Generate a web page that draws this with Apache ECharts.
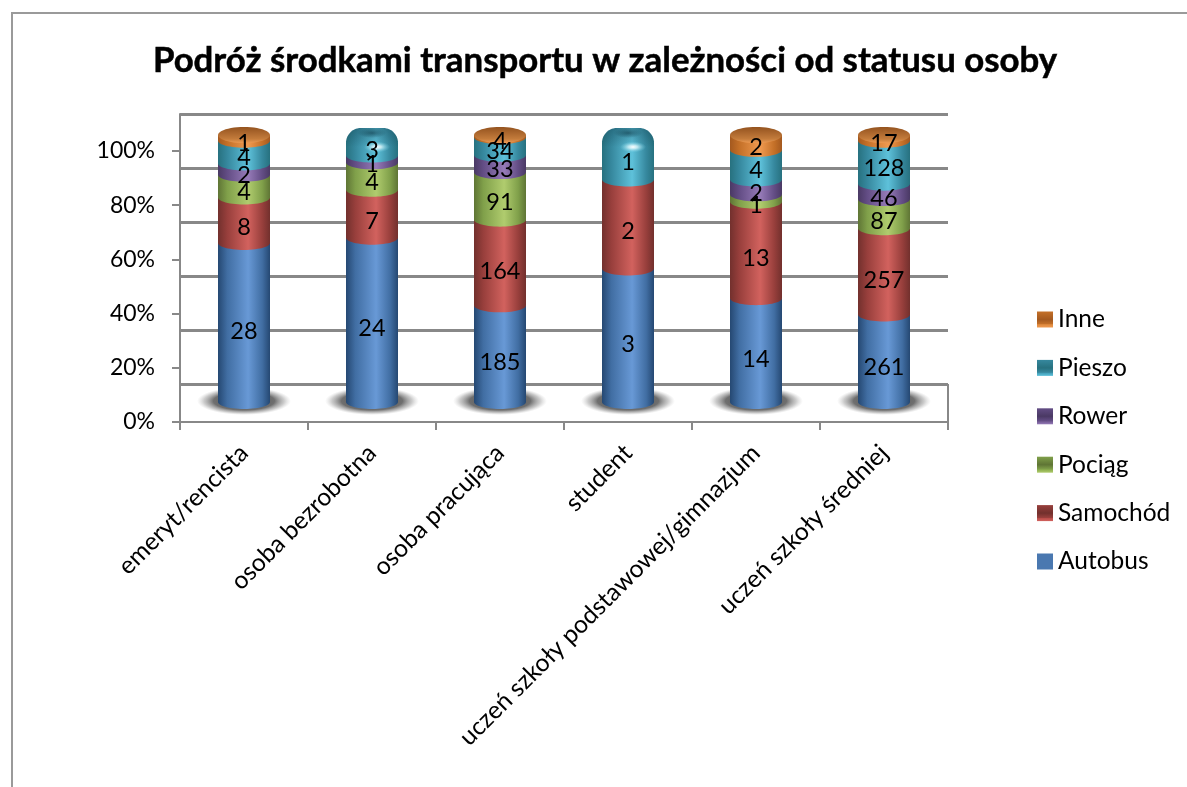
<!DOCTYPE html>
<html>
<head>
<meta charset="utf-8">
<style>html,body{margin:0;padding:0;background:#fff}#c{width:1187px;height:787px}</style>
<script src="https://cdn.jsdelivr.net/npm/echarts@6/dist/echarts.min.js"></script>
</head>
<body>
<div id="c"></div>
<script>
const categories = ['emeryt/rencista','osoba bezrobotna','osoba pracująca','student','uczeń szkoły podstawowej/gimnazjum','uczeń szkoły średniej'];
const autobus = [28,24,185,3,14,261];
const samochod = [8,7,164,2,13,257];
const pociag = [4,4,91,0,1,87];
const rower = [2,1,33,0,2,46];
const pieszo = [4,3,34,1,4,128];
const inne = [1,0,4,0,2,17];
const seriesNames = ['Autobus','Samochód','Pociąg','Rower','Pieszo','Inne'];
const seriesValues = [autobus,samochod,pociag,rower,pieszo,inne];
const tones = [
  ['#254872','#6899d6','#416ea3','#4a7ab5'],
  ['#72302d','#d2625e','#983f3c','#b94c49'],
  ['#5f7535','#b0cc6e','#80a04a','#8fb04f'],
  ['#4a3964','#967bb8','#634d85','#6f5790'],
  ['#27717f','#5ec1da','#36889e','#42a0b9'],
  ['#a4591f','#f09a50','#c47028','#e08a3e']
];
const FONT = 'Lato';
const GREY = '#888888';
const BODY = 52/128;
const RY = 7;

function sideFill(t){
  return {type:'linear',x:0,y:0,x2:1,y2:0,colorStops:[
    {offset:0,color:t[0]},{offset:0.18,color:t[2]},{offset:0.58,color:t[1]},{offset:0.85,color:t[2]},{offset:1,color:t[0]}]};
}
function ellipsePts(cx,cy,rx,ry,from,to,n){
  const out=[];
  for(let i=0;i<=n;i++){const a=from+(to-from)*i/n;out.push([cx+rx*Math.cos(a),cy+ry*Math.sin(a)]);}
  return out;
}
function glow(cx,cy,rx,ry,stops,z2){
  return {type:'circle',x:cx,y:cy,scaleX:rx/ry,scaleY:1,shape:{cx:0,cy:0,r:ry},
    style:{fill:{type:'radial',x:0.5,y:0.5,r:0.5,colorStops:stops}},z2:z2};
}
const totals = categories.map((_,i)=>seriesValues.reduce((s,v)=>s+v[i],0));

function rowsFor(k){
  return categories.map((_,i)=>{
    let below=0; for(let j=0;j<k;j++) below+=seriesValues[j][i];
    const v=seriesValues[k][i];
    let above=0; for(let j=k+1;j<seriesValues.length;j++) above+=seriesValues[j][i];
    return [i,below/totals[i]*100,(below+v)/totals[i]*100,v,above===0?1:0];
  });
}
function domePoints(cx,w,yTop,r){
  const yS=yTop+r;
  const left=ellipsePts(cx-w+r,yS,r,r,Math.PI,Math.PI*1.5,14);
  const right=ellipsePts(cx+w-r,yS,r,r,Math.PI*1.5,Math.PI*2,14);
  return left.concat(right,[[cx+w,yS+4],[cx-w,yS+4]]);
}
function makeRender(k){
  return function(params,api){
    const raw=api.value(3); if(!raw) return {type:'group',children:[]};
    const cat=api.value(0),top=api.coord([cat,api.value(2)]),bot=api.coord([cat,api.value(1)]);
    const w=api.size([1,0])[0]*BODY/2,cx=top[0],t=tones[k];
    const kids=[];
    const isTop=api.value(4)===1;
    const body=[[cx-w,top[1]+(isTop&&k!==5?10:0)],[cx+w,top[1]+(isTop&&k!==5?10:0)]].concat(ellipsePts(cx,bot[1],w,RY,0,Math.PI,28));
    kids.push({type:'polygon',shape:{points:body},style:{fill:sideFill(t)},z2:k*3+1});
    if(isTop&&k===5){
      kids.push({type:'polygon',shape:{points:ellipsePts(cx,top[1],w,8,0,Math.PI*2,48)},
        style:{fill:{type:'linear',x:0,y:0,x2:0,y2:1,colorStops:[{offset:0,color:'#94531f'},{offset:0.75,color:'#c47c3c'},{offset:1,color:'#ee9a52'}]}},z2:k*3+2});
    } else if(isTop){
      const pts=domePoints(cx,w,top[1]-7,15);
      kids.push({type:'polygon',shape:{points:pts},style:{fill:sideFill(t)},z2:k*3+2});
      kids.push({type:'polygon',shape:{points:pts},
        style:{fill:{type:'linear',x:0,y:0,x2:0,y2:1,colorStops:[{offset:0,color:'rgba(15,65,80,0.4)'},{offset:1,color:'rgba(15,65,80,0)'}]}},z2:k*3+2});
      kids.push(glow(cx,top[1]-2,w*0.55,5,[{offset:0,color:'rgba(15,60,75,0.6)'},{offset:1,color:'rgba(15,60,75,0)'}],k*3+3));
      kids.push(glow(cx+5,top[1]+12,w*0.5,5.5,[{offset:0,color:'rgba(255,255,255,1)'},{offset:0.35,color:'rgba(225,248,252,0.75)'},{offset:1,color:'rgba(120,210,230,0)'}],k*3+3));
    }
    const pct=(api.value(1)+api.value(2))/2;
    const off=9-Math.max(0,pct-50)*0.08;
    kids.push({type:'text',z2:100,style:{x:cx,y:(top[1]+bot[1])/2+off,text:String(raw),align:'center',verticalAlign:'middle',
      fontFamily:FONT,fontSize:23.5,fill:'#000'}});
    return {type:'group',children:kids};
  };
}
function shadowRender(params,api){
  const c=api.coord([api.value(0),0]);
  return glow(c[0],c[1]-1,47,14,[{offset:0,color:'rgba(70,70,70,1)'},{offset:0.65,color:'rgba(95,95,95,0.9)'},{offset:0.85,color:'rgba(150,150,150,0.5)'},{offset:1,color:'rgba(190,190,190,0)'}],0);
}
const legendFill=k=>k===0?'#4a78b0':{type:'linear',x:0,y:0,x2:0,y2:1,colorStops:[
  {offset:0,color:tones[k][2]},{offset:0.5,color:tones[k][0]},{offset:0.78,color:tones[k][2]},{offset:0.82,color:tones[k][3]},{offset:1,color:tones[k][1]}]};

const chart=echarts.init(document.getElementById('c'),null,{renderer:'canvas'});
const baseX=(show,gi)=>({type:'category',gridIndex:gi,data:categories,show});
chart.setOption({
  animation:false,
  backgroundColor:'#fff',
  title:{text:'Podróż środkami transportu w zależności od statusu osoby',left:600,top:38,textAlign:'center',
    textStyle:{fontFamily:FONT,fontWeight:'bold',fontSize:34.8,color:'#000',textBorderColor:'#000',textBorderWidth:0.5}},
  legend:{orient:'vertical',left:1037,top:307,itemWidth:16,itemHeight:16,itemGap:23.4,
    selectedMode:false,icon:'rect',padding:0,
    data:seriesNames.slice().reverse().map(n=>({name:n,itemStyle:{color:legendFill(seriesNames.indexOf(n))}})),
    textStyle:{fontFamily:FONT,fontSize:24.5,lineHeight:24,color:'#000'}},
  grid:[
    {left:180,width:768,top:151,height:271},
    {left:180,width:768,top:114,height:270},
    {left:180,width:768,top:135,height:267}
  ],
  xAxis:[
    {type:'category',gridIndex:0,data:categories,
      axisLine:{lineStyle:{color:GREY,width:2}},
      axisTick:{show:true,alignWithLabel:false,length:8,lineStyle:{color:GREY,width:2}},
      axisLabel:{rotate:45,interval:0,margin:27,fontFamily:FONT,fontSize:24.6,color:'#000'}},
    baseX(false,1),baseX(false,2)
  ],
  yAxis:[
    {type:'value',gridIndex:0,min:0,max:100,interval:20,splitLine:{show:false},
      axisLine:{show:true,lineStyle:{color:GREY,width:2}},
      axisTick:{show:true,length:8,lineStyle:{color:GREY,width:2}},
      axisLabel:{formatter:'{value}%',margin:25,fontFamily:FONT,fontSize:23,color:'#000'}},
    {type:'value',gridIndex:1,min:0,max:100,interval:20,
      axisLine:{show:true,lineStyle:{color:GREY,width:2}},axisTick:{show:false},axisLabel:{show:false},
      splitLine:{show:true,lineStyle:{color:GREY,width:3}}},
    {type:'value',gridIndex:2,min:0,max:100,show:false,splitLine:{show:false}}
  ],
  graphic:[
    {type:'polyline',silent:true,shape:{points:[[12,787],[12,13],[1187,13]]},style:{fill:'none',stroke:'#9a9a9a',lineWidth:2}},
    {type:'line',silent:true,shape:{x1:948,y1:384,x2:948,y2:430},style:{stroke:GREY,lineWidth:2}}
  ],
  series:[
    {type:'custom',name:'_cien',xAxisIndex:2,yAxisIndex:2,data:categories.map((_,i)=>[i]),renderItem:shadowRender,encode:{x:0},silent:true,clip:false,z:2}
  ].concat(seriesNames.map((n,k)=>({
    type:'custom',name:n,xAxisIndex:2,yAxisIndex:2,coordinateSystem:'cartesian2d',
    data:rowsFor(k),renderItem:makeRender(k),encode:{x:0,y:[1,2]},silent:true,clip:false,
    itemStyle:{color:tones[k][3]},z:3
  })))
});
</script>
</body>
</html>
